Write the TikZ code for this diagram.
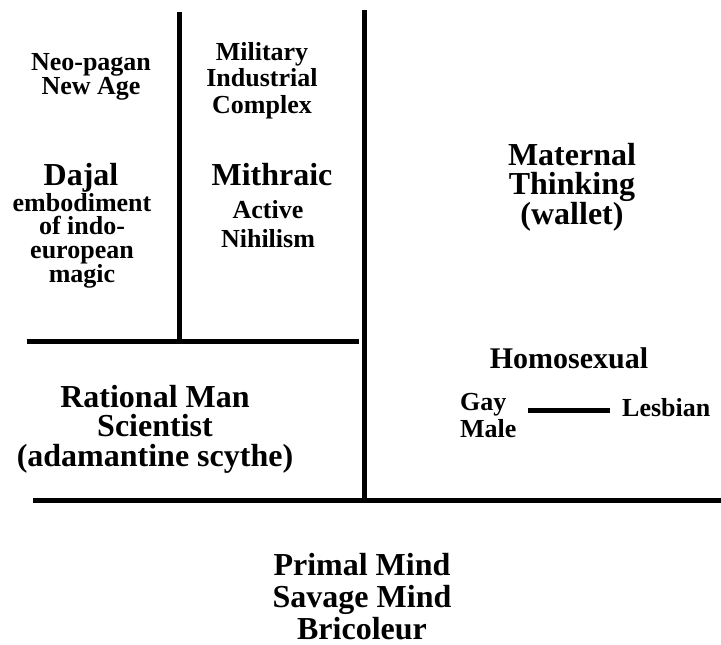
\documentclass[tikz,border=0pt]{standalone}
\usepackage{fontspec}
\setmainfont{Liberation Serif}
\begin{document}
\begin{tikzpicture}[x=1pt,y=-1pt,
    bar/.style={line width=5pt},
    lbl/.style={align=center,inner sep=0pt,anchor=north},
    small/.style={font=\bfseries\fontsize{26}{#1}\selectfont},
    big/.style={font=\bfseries\fontsize{32}{#1}\selectfont}]
    \useasboundingbox (0,0) rectangle (721,645);
    % the frame
    \coordinate (v1top) at (179.5,12);
    \coordinate (v2top) at (364.5,10);
    \coordinate (h1l) at (27,341);
    \coordinate (h1r) at (359,341);
    \coordinate (h2l) at (33,500);
    \coordinate (h2r) at (721,500);
    \draw[bar] (v1top) -- (v1top |- h1l);
    \draw[bar] (v2top) -- (v2top |- h2l);
    \draw[bar] (h1l) -- (h1r);
    \draw[bar] (h2l) -- (h2r);
    % upper left
    \node[lbl,small=22] (neo) at (91,53) {Neo-pagan\\New Age};
    \node[lbl,big=29] (dajal) at (81,163) {Dajal};
    \node[lbl,small=23.5] (indo) at (82,193) {embodiment\\of indo-\\european\\magic};
    % upper middle
    \node[lbl,small=26.5] (mic) at (262,42) {Military\\Industrial\\Complex};
    \node[lbl,big=29] (mith) at (272,163) {Mithraic};
    \node[lbl,small=29] (nihil) at (268,200) {Active\\Nihilism};
    % right
    \node[lbl,big=29] (mat) at (572,143) {Maternal\\Thinking\\(wallet)};
    \node[lbl,font=\bfseries\fontsize{30}{30}\selectfont] (homo) at (569,347) {Homosexual};
    \node[lbl,small=27,align=left,anchor=north west] (gay) at (460,393) {Gay\\Male};
    \node[lbl,small=27,anchor=north west] (lesb) at (622,398) {Lesbian};
    \coordinate (lnk) at ([shift={(-12pt,-3pt)}]lesb.west);
    \draw[bar] (lnk) -- ([xshift=11pt]gay.east |- lnk);
    % lower
    \node[lbl,big=29.5] (rat) at (155,385) {Rational Man\\Scientist\\(adamantine scythe)};
    \node[lbl,big=32] (primal) at (362,553) {Primal Mind\\Savage Mind\\Bricoleur};
\end{tikzpicture}
\end{document}
